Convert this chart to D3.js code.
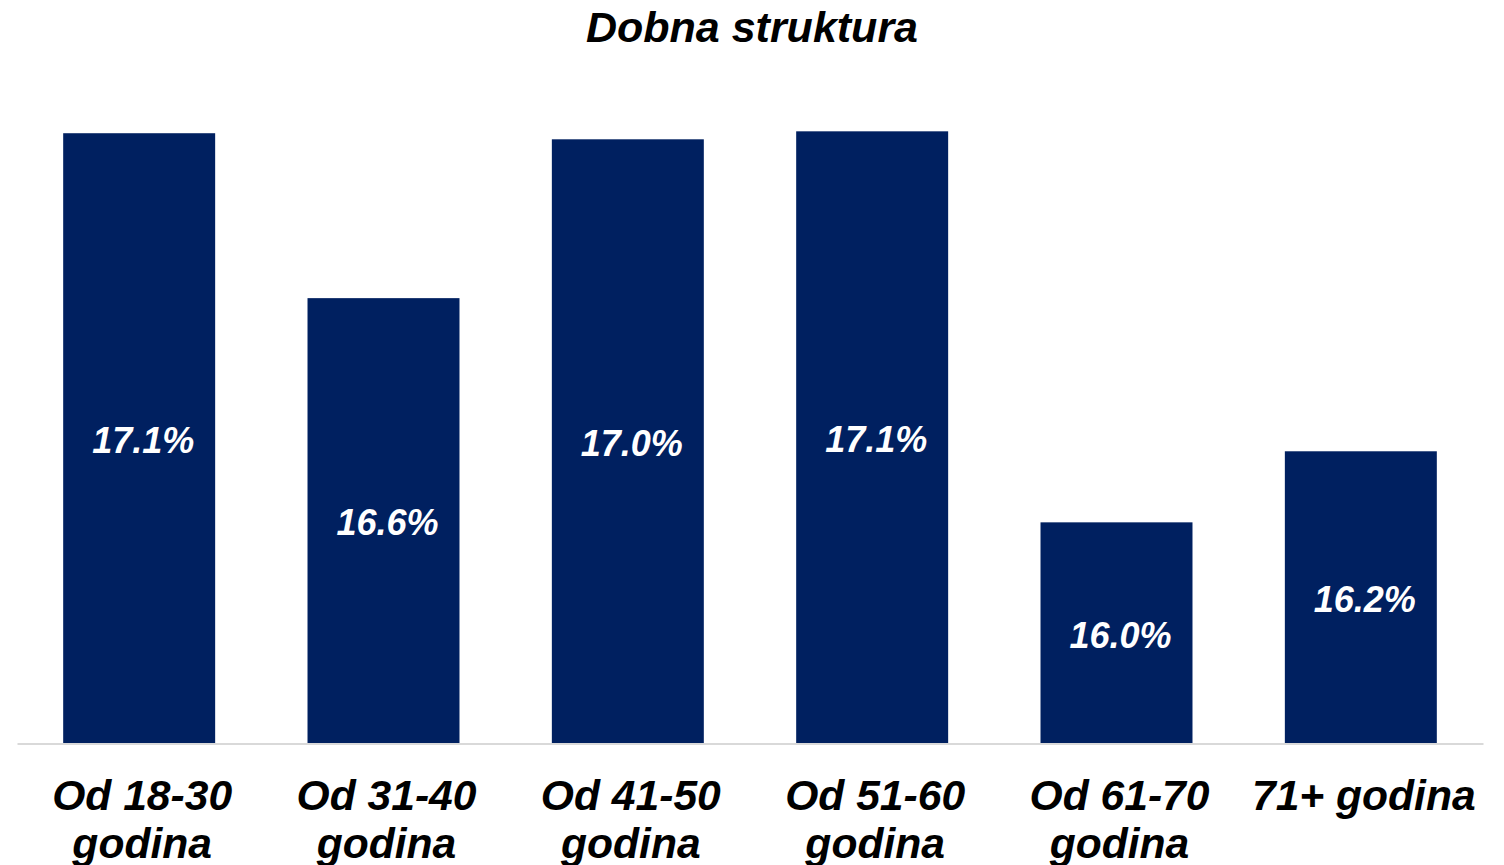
<!DOCTYPE html>
<html>
<head>
<meta charset="utf-8">
<script src="https://cdn.jsdelivr.net/npm/d3@7"></script>
<style>
  html, body { margin: 0; padding: 0; background: #fff; }
  svg { display: block; font-family: "Liberation Sans", Arial, sans-serif; }
</style>
</head>
<body>
<svg id="chart" width="1504" height="865"></svg>
<script>
const title = "Dobna struktura";
const categories = ["Od 18-30 godina", "Od 31-40 godina", "Od 41-50 godina", "Od 51-60 godina", "Od 61-70 godina", "71+ godina"];
const values = [17.056, 16.622, 17.04, 17.061, 16.032, 16.219];
const valueLabels = ["17.1%", "16.6%", "17.0%", "17.1%", "16.0%", "16.2%"];
const yDomain = [15.45, 17.2];

const svg = d3.select("#chart");
const left = 17, right = 1483, baseY = 743.5, topY = 78.5;

const x = d3.scaleBand().domain(categories).range([left, right]).paddingInner(0.378).paddingOuter(0.189);
const y = d3.scaleLinear().domain(yDomain).range([baseY, topY]);

svg.append("text")
  .attr("x", 752).attr("y", 42)
  .attr("text-anchor", "middle")
  .attr("font-size", 43).attr("font-weight", "bold").attr("font-style", "italic")
  .attr("fill", "#000")
  .text(title);

svg.append("g").selectAll("rect").data(categories).join("rect")
  .attr("x", d => x(d))
  .attr("width", x.bandwidth())
  .attr("y", (d, i) => y(values[i]))
  .attr("height", (d, i) => baseY - y(values[i]))
  .attr("fill", "#002060");

svg.append("g").selectAll("text").data(categories).join("text")
  .attr("x", d => x(d) + x.bandwidth() / 2 + 4)
  .attr("y", (d, i) => (y(values[i]) + baseY) / 2 + 2)
  .attr("dy", "0.35em")
  .attr("text-anchor", "middle")
  .attr("font-size", 36).attr("font-weight", "bold").attr("font-style", "italic")
  .attr("fill", "#fff")
  .text((d, i) => valueLabels[i]);

// axis
const axis = d3.axisBottom(x).tickSize(0).tickFormat("");
const ax = svg.append("g").attr("transform", `translate(0,${baseY})`).call(axis);
ax.select(".domain").attr("stroke", "#d9d9d9").attr("stroke-width", 2);

// category labels with wrapping
const lab = svg.append("g").selectAll("text").data(categories).join("text")
  .attr("x", d => x(d) + x.bandwidth() / 2 + 3)
  .attr("y", 810)
  .attr("text-anchor", "middle")
  .attr("font-size", 42.6).attr("font-weight", "bold").attr("font-style", "italic")
  .attr("fill", "#000");
lab.each(function(d) {
  const t = d3.select(this);
  const maxW = x.step();
  const words = d.split(" ");
  let lines = [], cur = [];
  words.forEach(w => {
    const test = cur.concat([w]).join(" ");
    t.text(test);
    if (this.getComputedTextLength() > maxW && cur.length) {
      lines.push(cur.join(" "));
      cur = [w];
    } else cur.push(w);
  });
  lines.push(cur.join(" "));
  t.text(null);
  lines.forEach((l, i) => {
    t.append("tspan").attr("x", x(d) + x.bandwidth() / 2 + 3).attr("dy", i === 0 ? 0 : 48).text(l);
  });
});
</script>
</body>
</html>
